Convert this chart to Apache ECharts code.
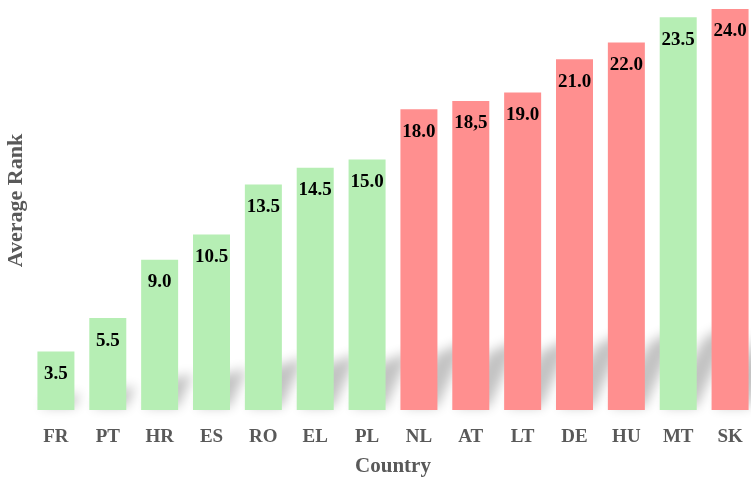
<!DOCTYPE html>
<html>
<head>
<meta charset="utf-8">
<script src="https://cdn.jsdelivr.net/npm/echarts@6/dist/echarts.min.js"></script>
<style>
  html, body { margin: 0; padding: 0; background: #fff; }
  #chart { width: 751px; height: 477px; }
</style>
</head>
<body>
<div id="chart"></div>
<script>
// countries, average rank, labels shown on bars
let countries = ['FR', 'PT', 'HR', 'ES', 'RO', 'EL', 'PL', 'NL', 'AT', 'LT', 'DE', 'HU', 'MT', 'SK'];
let avgRank = [3.5, 5.5, 9.0, 10.5, 13.5, 14.5, 15.0, 18.0, 18.5, 19.0, 21.0, 22.0, 23.5, 24.0];
let rankLabels = ['3.5', '5.5', '9.0', '10.5', '13.5', '14.5', '15.0', '18.0', '18,5', '19.0', '21.0', '22.0', '23.5', '24.0'];
// g = green, r = red
let groups = ['g', 'g', 'g', 'g', 'g', 'g', 'g', 'r', 'r', 'r', 'r', 'r', 'g', 'r'];

let green = '#b6eeb4';
let red = '#ff8f8f';
let serif = "'Liberation Serif', 'Times New Roman', serif";

let Chart_rank = echarts.init(document.getElementById('chart'));

let barData = avgRank.map(function (v, i) {
    return {
        value: v,
        itemStyle: { color: groups[i] == 'g' ? green : red }
    };
});
let shadowData = avgRank.map(function (v, i) { return [i, v]; });

// soft slanted shadow behind each bar
// the shape is drawn far off to the left, only its blurred shadow lands in the chart
function renderShadow(params, api) {
    let base = api.coord([api.value(0), 0]);
    let top = api.coord([api.value(0), api.value(1)]);
    let w = 37;
    let h = base[1] - top[1];
    let dy = h * 0.22;
    let dx = dy * 0.45;
    let off = 3000;
    let x0 = base[0] - w / 2 - off, x1 = base[0] + w / 2 - off, y0 = base[1] - 3;
    return {
        type: 'polygon',
        shape: {
            points: [[x0 + 3, y0], [x1, y0], [x1 + dx, y0 - dy], [x0 + dx + 6, y0 - dy * 0.8]]
        },
        style: {
            fill: '#000',
            shadowBlur: 12,
            shadowColor: 'rgba(0,0,0,0.24)',
            shadowOffsetX: off
        },
        silent: true
    };
}

option = {
    animation: false,
    grid: {
        left: 30,
        top: 9,
        bottom: 67,
        width: 726,
        containLabel: false,
        outerBoundsMode: 'none'
    },
    xAxis: {
        type: 'category',
        data: countries,
        name: 'Country',
        nameLocation: 'middle',
        nameGap: 46,
        nameTextStyle: {
            fontFamily: serif,
            fontWeight: 'bold',
            fontSize: 21,
            color: '#595959'
        },
        axisLine: { show: false },
        axisTick: { show: false },
        axisLabel: {
            margin: 18,
            fontFamily: serif,
            fontWeight: 'bold',
            fontSize: 19,
            color: '#595959'
        }
    },
    yAxis: {
        type: 'value',
        min: 0,
        max: 24,
        name: 'Average Rank',
        nameLocation: 'middle',
        nameGap: 3,
        nameTextStyle: {
            fontFamily: serif,
            fontWeight: 'bold',
            fontSize: 22,
            color: '#595959',
            padding: [0, 0, 0, 18]
        },
        axisLine: { show: false },
        axisTick: { show: false },
        axisLabel: { show: false },
        splitLine: { show: false }
    },
    series: [
        {
            name: 'shadow',
            type: 'custom',
            renderItem: renderShadow,
            data: shadowData,
            encode: { x: 0, y: 1 },
            clip: false,
            z: 1
        },
        {
            name: 'Average Rank',
            type: 'bar',
            barWidth: 37,
            data: barData,
            z: 2,
            label: {
                show: true,
                position: 'insideTop',
                distance: 13,
                fontFamily: serif,
                fontWeight: 'bold',
                fontSize: 19,
                color: '#000',
                formatter: function (p) { return rankLabels[p.dataIndex]; }
            }
        }
    ]
};

Chart_rank.setOption(option);
</script>
</body>
</html>
